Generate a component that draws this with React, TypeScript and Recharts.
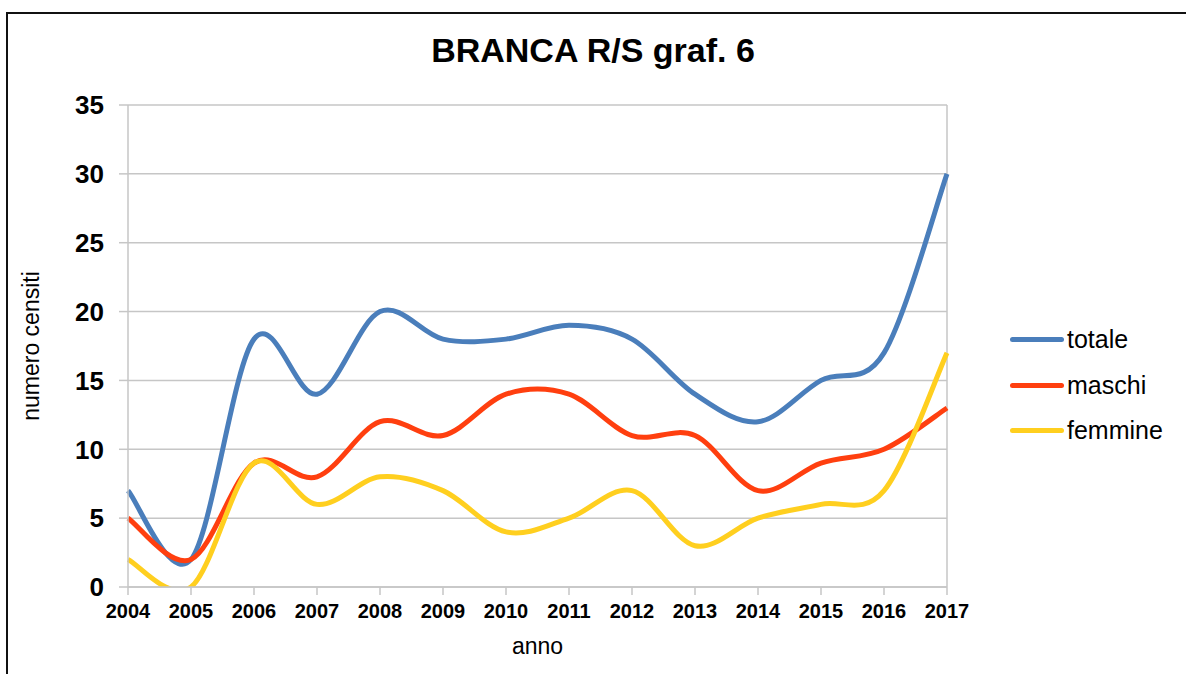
import { LineChart, Line, XAxis, YAxis, CartesianGrid, Legend, ReferenceLine } from "recharts"

const years = [2004, 2005, 2006, 2007, 2008, 2009, 2010, 2011, 2012, 2013, 2014, 2015, 2016, 2017]
const totale = [7, 2, 18, 14, 20, 18, 18, 19, 18, 14, 12, 15, 17, 30]
const maschi = [5, 2, 9, 8, 12, 11, 14, 14, 11, 11, 7, 9, 10, 13]
const femmine = [2, 0, 9, 6, 8, 7, 4, 5, 7, 3, 5, 6, 7, 17]
const yTicks = [0, 5, 10, 15, 20, 25, 30, 35]

const SERIES = [
  { key: "totale", color: "#4a7ebb" },
  { key: "maschi", color: "#ff3f0f" },
  { key: "femmine", color: "#ffcf1f" },
]

const GRID = "#c6c6c6"
const FONT = "'Liberation Sans', Arial, sans-serif"

// curva smussata tipo Excel (bezier con tangenti catmull-rom)
const excelSmooth = (context: any) => {
  let xs: number[] = []
  let ys: number[] = []
  return {
    areaStart() {},
    areaEnd() {},
    lineStart() {
      xs = []
      ys = []
    },
    point(x: number, y: number) {
      xs.push(+x)
      ys.push(+y)
    },
    lineEnd() {
      const n = xs.length
      if (!n) return
      context.moveTo(xs[0], ys[0])
      for (let i = 0; i < n - 1; i++) {
        const p = Math.max(i - 1, 0)
        const q = Math.min(i + 2, n - 1)
        context.bezierCurveTo(
          xs[i] + (xs[i + 1] - xs[p]) / 6,
          ys[i] + (ys[i + 1] - ys[p]) / 6,
          xs[i + 1] - (xs[q] - xs[i]) / 6,
          ys[i + 1] - (ys[q] - ys[i]) / 6,
          xs[i + 1],
          ys[i + 1]
        )
      }
    },
  }
}

const data = years.map((anno, i) => ({
  anno,
  totale: totale[i],
  maschi: maschi[i],
  femmine: femmine[i],
}))

function LegendBox({ payload }: any) {
  // ordine come nelle serie, non alfabetico
  const items = SERIES.map((s) => (payload || []).find((p: any) => p.value === s.key)).filter(Boolean)
  return (
    <div>
      {items.map((p: any) => (
        <div key={p.value} style={{ display: "flex", alignItems: "center", height: 45.5 }}>
          <div style={{ width: 54, height: 5, borderRadius: 3, background: p.color }} />
          <span style={{ marginLeft: 3, fontSize: 25, color: "#000", fontFamily: FONT }}>{p.value}</span>
        </div>
      ))}
    </div>
  )
}

export default function App() {
  return (
    <div
      style={{
        position: "absolute",
        left: 6,
        top: 12,
        width: 1178,
        height: 660,
        borderLeft: "2px solid #111",
        borderTop: "2px solid #111",
        fontFamily: FONT,
      }}
    >
      <div
        style={{
          position: "absolute",
          left: -8,
          top: 19,
          width: 1186,
          textAlign: "center",
          fontSize: 34,
          lineHeight: "34px",
          fontWeight: "bold",
          color: "#000",
        }}
      >
        BRANCA R/S graf. 6
      </div>
      <LineChart width={1170} height={660} data={data} margin={{ top: 91, right: 231, bottom: 47, left: 60 }}>
        <CartesianGrid vertical={false} stroke={GRID} strokeWidth={1.5} />
        <XAxis
          dataKey="anno"
          height={40}
          stroke={GRID}
          strokeWidth={1.5}
          tickSize={8}
          tickMargin={9}
          interval={0}
          tick={{ fill: "#000", fontSize: 20, fontWeight: "bold" }}
          label={{ value: "anno", position: "bottom", offset: 11, fill: "#000", fontSize: 23 }}
        />
        <YAxis
          width={60}
          domain={[0, 35]}
          ticks={yTicks}
          allowDataOverflow
          stroke={GRID}
          strokeWidth={1.5}
          tickSize={9}
          tickMargin={15}
          tick={{ fill: "#000", fontSize: 26, fontWeight: "bold" }}
          label={{
            value: "numero censiti",
            angle: -90,
            position: "left",
            offset: 37,
            fill: "#000",
            fontSize: 23,
            style: { textAnchor: "middle" },
          }}
        />
        <ReferenceLine x={2017} stroke={GRID} strokeWidth={1.5} />
        <Legend
          layout="horizontal"
          verticalAlign="middle"
          align="center"
          content={<LegendBox />}
          wrapperStyle={{ left: 1002, top: 303, width: 170 }}
        />
        {SERIES.map((s) => (
          <Line
            key={s.key}
            dataKey={s.key}
            name={s.key}
            type={excelSmooth as any}
            stroke={s.color}
            strokeWidth={5}
            dot={false}
            activeDot={false}
            isAnimationActive={false}
          />
        ))}
      </LineChart>
    </div>
  )
}
